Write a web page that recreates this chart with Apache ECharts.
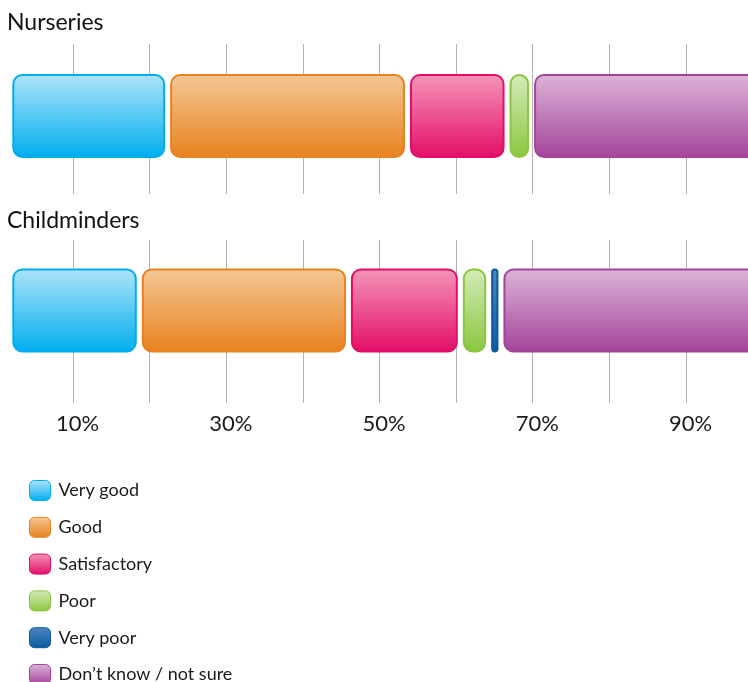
<!DOCTYPE html>
<html>
<head>
<meta charset="utf-8">
<script src="https://cdn.jsdelivr.net/npm/echarts@6/dist/echarts.min.js"></script>
<style>
  html, body { margin: 0; padding: 0; background: #ffffff; }
  #chart { width: 748px; height: 682px; }
</style>
</head>
<body>
<div id="chart"></div>
<script>
// Survey groups (rows) and rating categories (stacked segments)
const groups = ['Nurseries', 'Childminders'];
const ratings = ['Very good', 'Good', 'Satisfactory', 'Poor', 'Very poor', 'Don\u2019t know / not sure'];

// Share of responses per rating, in percent
const nurseries = [20.6, 31.3, 13.0, 3.2, 0, 31.9];
const childminders = [16.9, 27.3, 14.6, 3.7, 1.6, 35.9];

// Percent labels printed under the chart
const tickLabels = ['10%', '30%', '50%', '70%', '90%'];

// Segment colours: light top of gradient, saturated bottom / outline
const palette = [
  { light: '#aee4f9', dark: '#00aeef' },
  { light: '#f4c796', dark: '#e8821e' },
  { light: '#f495b9', dark: '#e30d67' },
  { light: '#d4ebb9', dark: '#8cc63f' },
  { light: '#4f86c0', dark: '#0b5aa0' },
  { light: '#ddb3d8', dark: '#a3449a' }
];

const FONT = 'Lato';
const BAR_HEIGHT = 84;
const GAP = 5;

function grad(c) {
  return new echarts.graphic.LinearGradient(0, 0, 0, 1, [
    { offset: 0, color: c.light },
    { offset: 1, color: c.dark }
  ]);
}

// Build [row, start, end] triples for every rating by running cumulative sums
const rows = [nurseries, childminders];
const segmentData = ratings.map(() => []);
rows.forEach((vals, r) => {
  let acc = 0;
  vals.forEach((v, i) => {
    if (v > 0) segmentData[i].push([r, acc, acc + v]);
    acc += v;
  });
});

function makeRenderer(c) {
  return function (params, api) {
    const row = api.value(0);
    const p0 = api.coord([api.value(1), row]);
    const p1 = api.coord([api.value(2), row]);
    const w = p1[0] - p0[0] - GAP;
    if (w <= 0) return null;
    const r = Math.min(9, (w - 2) / 2);
    return {
      type: 'rect',
      shape: { x: p0[0] + 1, y: p0[1] - BAR_HEIGHT / 2 + 1, width: w - 2, height: BAR_HEIGHT - 2, r: r },
      style: { fill: grad(c), stroke: c.dark, lineWidth: 2 }
    };
  };
}

const hiddenAxis = {
  axisLine: { show: false }, axisTick: { show: false },
  axisLabel: { show: false }, splitLine: { show: false }
};

const gridAxis = (gridIndex, showLabels) => ({
  type: 'value', gridIndex, min: 0, max: 100, interval: 10,
  axisLine: { show: false }, axisTick: { show: false },
  splitLine: { show: true, lineStyle: { color: '#b3b3b3', width: 1 } },
  axisLabel: {
    show: showLabels, margin: 10, padding: [0, 0, 0, 9],
    fontFamily: FONT, fontSize: 22, color: '#1a1a1a',
    formatter: v => (tickLabels.includes(v + '%') ? v + '%' : '')
  }
});

const chart = echarts.init(document.getElementById('chart'), null, { renderer: 'canvas' });

chart.setOption({
  animation: false,
  backgroundColor: '#ffffff',
  title: [
    { text: groups[0], left: 7, top: 11, padding: 0,
      textStyle: { fontFamily: FONT, fontSize: 23, fontWeight: 'normal', color: '#111' } },
    { text: groups[1], left: 7, top: 209, padding: 0,
      textStyle: { fontFamily: FONT, fontSize: 23, fontWeight: 'normal', color: '#111' } }
  ],
  grid: [
    { left: -3.6, right: -14.6, top: 44, height: 150, outerBoundsMode: 'none', containLabel: false },
    { left: -3.6, right: -14.6, top: 240, height: 163, outerBoundsMode: 'none', containLabel: false },
    { left: 12.3, right: -30.5, top: 18.75, height: 389, outerBoundsMode: 'none', containLabel: false }
  ],
  xAxis: [
    gridAxis(0, false),
    gridAxis(1, true),
    Object.assign({ type: 'value', gridIndex: 2, min: 0, max: 100 }, hiddenAxis)
  ],
  yAxis: [
    Object.assign({ type: 'value', gridIndex: 0 }, hiddenAxis),
    Object.assign({ type: 'value', gridIndex: 1 }, hiddenAxis),
    Object.assign({ type: 'category', gridIndex: 2, data: groups, inverse: true }, hiddenAxis)
  ],
  legend: {
    orient: 'vertical', left: 29, top: 480, height: 260, padding: 0,
    itemWidth: 21, itemHeight: 20, itemGap: 15.8, icon: 'roundRect',
    selectedMode: false,
    textStyle: { fontFamily: FONT, fontSize: 18, lineHeight: 20, color: '#1a1a1a', padding: [0, 0, 0, 3] },
    data: ratings.map((name, i) => ({
      name,
      itemStyle: { color: grad(palette[i]), borderColor: palette[i].dark, borderWidth: 1 }
    }))
  },
  series: ratings.map((name, i) => ({
    name,
    type: 'custom',
    xAxisIndex: 2,
    yAxisIndex: 2,
    itemStyle: { color: grad(palette[i]) },
    encode: { x: [1, 2], y: 0 },
    renderItem: makeRenderer(palette[i]),
    data: segmentData[i]
  }))
});
</script>
</body>
</html>
